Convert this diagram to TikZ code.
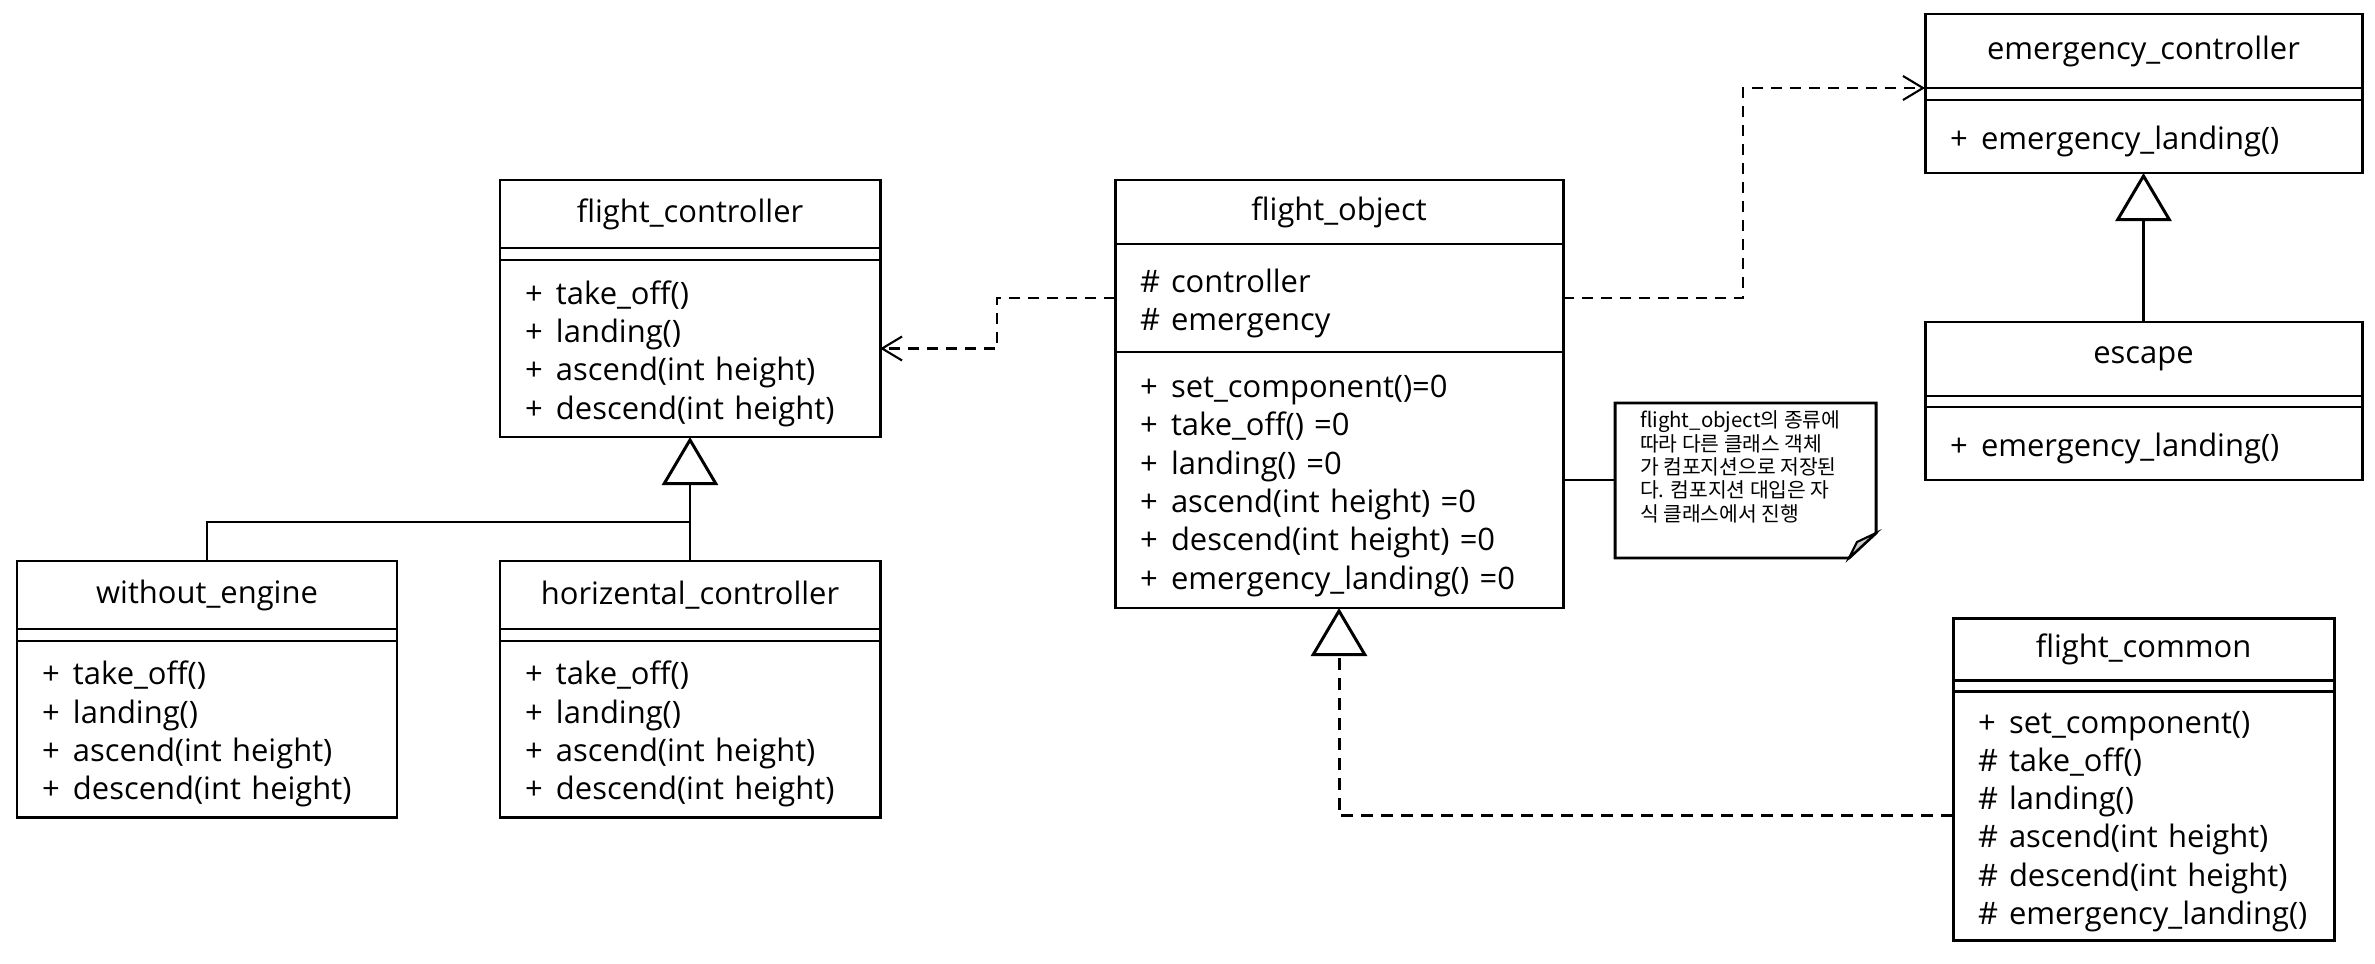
\documentclass[tikz,border=0pt]{standalone}
\usepackage{fontspec}
\setmainfont{Open Sans}
\newfontfamily\hangulfont{Noto Sans CJK KR}
\usetikzlibrary{positioning,arrows.meta}

\newcommand\umlfont{\fontsize{8.8pt}{10.9pt}\selectfont}
\newcommand\notefont{\hangulfont\fontsize{5.8pt}{6.65pt}\selectfont}
\newcommand\vis[1]{\makebox[0.31cm][l]{#1}}

\begin{document}
\begin{tikzpicture}[
    font=\umlfont,
    clsname/.style={rectangle, draw, line width=0.85pt, outer sep=0pt, inner xsep=0.25cm, inner ysep=0pt, align=center},
    clsgap/.style={rectangle, draw, line width=0.85pt, outer sep=0pt, inner sep=0pt, minimum height=0.12cm},
    clspart/.style={rectangle, draw, line width=0.85pt, outer sep=0pt, inner xsep=0.25cm, inner ysep=0pt, align=left,
      execute at begin node={\rule{0pt}{0.34cm}}},
    notebox/.style={rectangle, outer sep=0pt, inner xsep=0.25cm, inner ysep=0.08cm, font=\notefont},
    dep/.style={-{Straight Barb[length=0.2cm,width=0.24cm]}, line width=0.6pt, dash pattern=on 0.11cm off 0.08cm},
    inherit/.style={-{Triangle[open,length=0.48cm,width=0.56cm]}, line width=0.85pt},
    realize/.style={inherit, dash pattern=on 0.12cm off 0.08cm},
    link/.style={line width=0.6pt}
  ]

    \useasboundingbox (0,0) rectangle (23.75,-9.64);

    % Left - flight controller and its children
    \node[clsname, text width=3.3cm, minimum height=0.68cm] (fc) at (6.90,-2.14) {flight\_controller};
    \node[clsgap, minimum width=3.8cm, below=0pt of fc] (fc-a) {};
    \node[clspart, text width=3.3cm, minimum height=1.77cm, below=0pt of fc-a] (fc-o) {\vis{+}take\_off()\\\vis{+}landing()\\\vis{+}ascend(int height)\\\vis{+}descend(int height)};

    \node[clsname, text width=3.3cm, minimum height=0.68cm] (we) at (2.07,-5.95) {without\_engine};
    \node[clsgap, minimum width=3.8cm, below=0pt of we] (we-a) {};
    \node[clspart, text width=3.3cm, minimum height=1.76cm, below=0pt of we-a] (we-o) {\vis{+}take\_off()\\\vis{+}landing()\\\vis{+}ascend(int height)\\\vis{+}descend(int height)};

    \node[clsname, text width=3.3cm, minimum height=0.68cm] (hc) at (6.90,-5.95) {horizental\_controller};
    \node[clsgap, minimum width=3.8cm, below=0pt of hc] (hc-a) {};
    \node[clspart, text width=3.3cm, minimum height=1.76cm, below=0pt of hc-a] (hc-o) {\vis{+}take\_off()\\\vis{+}landing()\\\vis{+}ascend(int height)\\\vis{+}descend(int height)};

    % Middle - flight object
    \node[clsname, text width=3.98cm, minimum height=0.64cm] (fo) at (13.39,-2.12) {flight\_object};
    \node[clspart, text width=3.98cm, minimum height=1.08cm, below=0pt of fo] (fo-a) {\vis{\#}controller\\\vis{\#}emergency};
    \node[clspart, text width=3.98cm, minimum height=2.56cm, below=0pt of fo-a] (fo-o) {\vis{+}set\_component()=0\\\vis{+}take\_off() =0\\\vis{+}landing() =0\\\vis{+}ascend(int height) =0\\\vis{+}descend(int height) =0\\\vis{+}emergency\_landing() =0};

    % Note
    \node[notebox, minimum width=2.61cm, minimum height=1.55cm] (note) at (17.455,-4.805) {\parbox[c][1.39cm][t]{2.11cm}{flight\_object의 종류에\\따라 다른 클래스 객체\\가 컴포지션으로 저장된\\다. 컴포지션 대입은 자\\식 클래스에서 진행}};
    \draw[line width=0.85pt] (note.north west) -- (note.north east) -- ([yshift=0.25cm]note.south east) -- ([xshift=-0.27cm]note.south east) -- (note.south west) -- cycle;
    \filldraw[fill=gray!40, line width=0.6pt] ([yshift=0.25cm]note.south east) -- ([xshift=-0.27cm]note.south east) -- ([xshift=-0.19cm,yshift=0.16cm]note.south east) -- cycle;

    % Right - emergency controller and escape
    \node[clsname, text width=3.87cm, minimum height=0.74cm] (ec) at (21.435,-0.51) {emergency\_controller};
    \node[clsgap, minimum width=4.37cm, below=0pt of ec] (ec-a) {};
    \node[clspart, text width=3.87cm, minimum height=0.73cm, below=0pt of ec-a] (ec-o) {\vis{+}emergency\_landing()};

    \node[clsname, text width=3.87cm, minimum height=0.74cm] (esc) at (21.435,-3.59) {escape};
    \node[clsgap, minimum width=4.37cm, minimum height=0.11cm, below=0pt of esc] (esc-a) {};
    \node[clspart, text width=3.87cm, minimum height=0.73cm, below=0pt of esc-a] (esc-o) {\vis{+}emergency\_landing()};

    % Bottom right - flight common
    \node[clsname, text width=3.31cm, minimum height=0.62cm] (fcm) at (21.435,-6.49) {flight\_common};
    \node[clsgap, minimum width=3.81cm, minimum height=0.11cm, below=0pt of fcm] (fcm-a) {};
    \node[clspart, text width=3.31cm, minimum height=2.49cm, below=0pt of fcm-a] (fcm-o) {\vis{+}set\_component()\\\vis{\#}take\_off()\\\vis{\#}landing()\\\vis{\#}ascend(int height)\\\vis{\#}descend(int height)\\\vis{\#}emergency\_landing()};

    % Connectors
    \draw[dep] (fo-a.west) -- ++(-1.18,0) |- (fc-o.east);
    \draw[dep] (fo-a.east) -- ++(1.80,0) |- (ec.south west);
    \draw[link] (fo-o.east) -- (fo-o.east -| note.west);
    \draw[inherit] (hc.north) -- (fc-o.south);
    \draw[line width=0.85pt] (we.north) |- ([yshift=0.39cm]hc.north);
    \draw[inherit] (esc.north) -- (ec-o.south);
    \draw[realize] (fcm-o.west) -| (fo-o.south);

  \end{tikzpicture}
\end{document}
